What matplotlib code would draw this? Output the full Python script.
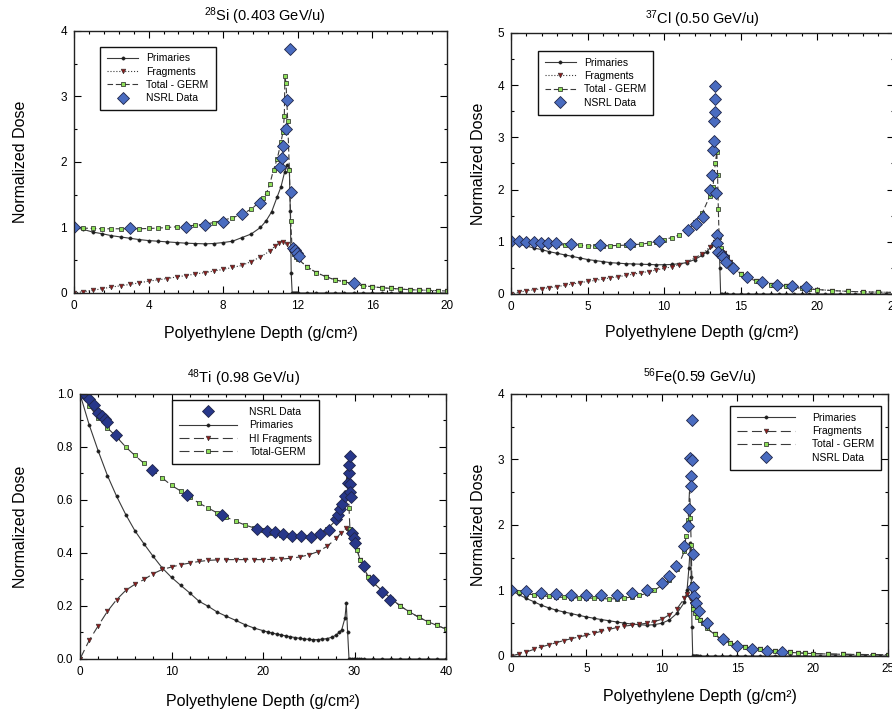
import matplotlib
matplotlib.use('Agg')
import matplotlib.pyplot as plt
from matplotlib.ticker import MultipleLocator, FormatStrFormatter

plt.rcParams['font.family'] = ['Liberation Sans', 'DejaVu Sans']
plt.rcParams['mathtext.fontset'] = 'custom'
plt.rcParams['mathtext.rm'] = 'Liberation Sans'
plt.rcParams['mathtext.it'] = 'Liberation Sans:italic'
plt.rcParams['mathtext.bf'] = 'Liberation Sans:bold'

# ---------------- 28Si (0.403 GeV/u) ----------------
si_prim_x = [0, 0.5, 1, 1.5, 2, 2.5, 3, 3.5, 4, 4.5, 5, 5.5, 6, 6.5, 7, 7.5, 8, 8.5, 9, 9.5, 10,
             10.3, 10.6, 10.9, 11.1, 11.3, 11.45, 11.55, 11.6, 11.65,
             11.7, 11.75, 11.8, 11.85, 11.9, 11.95, 12.0,
             12.5, 13, 13.5, 14, 14.5, 15, 15.5, 16, 16.5, 17, 17.5, 18, 18.5, 19, 19.5, 20]
si_prim_y = [1.0, 0.97, 0.93, 0.905, 0.875, 0.855, 0.835, 0.815, 0.80, 0.79, 0.78, 0.77, 0.76, 0.755, 0.75, 0.755, 0.77, 0.79, 0.845, 0.9, 1.0,
             1.1, 1.24, 1.47, 1.62, 1.85, 1.95, 1.9, 1.25, 0.3,
             0, 0, 0, 0, 0, 0, 0,
             0, 0, 0, 0, 0, 0, 0, 0, 0, 0, 0, 0, 0, 0, 0, 0]
si_frag_x = [0, 0.5, 1, 1.5, 2, 2.5, 3, 3.5, 4, 4.5, 5, 5.5, 6, 6.5, 7, 7.5, 8, 8.5, 9, 9.5, 10,
             10.5, 10.8, 11.0, 11.2, 11.4, 11.6, 11.8, 12.0,
             12.5, 13, 13.5, 14, 14.5, 15, 15.5, 16, 16.5, 17, 17.5, 18, 18.5, 19, 19.5, 20]
si_frag_y = [0.0, 0.02, 0.04, 0.065, 0.09, 0.11, 0.13, 0.155, 0.18, 0.2, 0.22, 0.245, 0.265, 0.29, 0.31, 0.335, 0.36, 0.39, 0.42, 0.48, 0.55,
             0.64, 0.72, 0.76, 0.78, 0.74, 0.66, 0.58, 0.52,
             0.40, 0.31, 0.25, 0.20, 0.17, 0.14, 0.11, 0.095, 0.08, 0.07, 0.06, 0.05, 0.045, 0.04, 0.035, 0.03]
si_tot_x = [0, 0.5, 1, 1.5, 2, 2.5, 3, 3.5, 4, 4.5, 5, 5.5, 6, 6.5, 7, 7.5, 8, 8.5, 9, 9.5, 10,
            10.15, 10.33, 10.5, 10.7, 10.9, 11.1, 11.2, 11.28, 11.31, 11.37, 11.46, 11.55, 11.62, 11.7, 11.8, 11.9, 12.0,
            12.5, 13, 13.5, 14, 14.5, 15, 15.5, 16, 16.5, 17, 17.5, 18, 18.5, 19, 19.5, 20]
si_tot_y = [1.0, 0.99, 0.985, 0.98, 0.98, 0.98, 0.98, 0.98, 0.985, 0.99, 1.0, 1.01, 1.02, 1.035, 1.05, 1.075, 1.11, 1.15, 1.2, 1.28, 1.4,
            1.45, 1.53, 1.66, 1.88, 2.05, 2.3, 2.45, 2.7, 3.31, 3.21, 2.63, 1.88, 1.1, 0.66, 0.6, 0.55, 0.52,
            0.40, 0.31, 0.25, 0.20, 0.17, 0.14, 0.11, 0.095, 0.08, 0.07, 0.06, 0.05, 0.045, 0.04, 0.035, 0.03]
si_nsrl_x = [0, 3, 6, 7, 8, 9, 10, 11.05, 11.13, 11.22, 11.35, 11.44, 11.58, 11.63, 11.75, 11.85, 11.95, 12.05, 15]
si_nsrl_y = [1.0, 0.99, 1.01, 1.04, 1.09, 1.2, 1.37, 1.92, 2.06, 2.24, 2.5, 2.95, 3.72, 1.54, 0.68, 0.65, 0.61, 0.57, 0.15]

# ---------------- 37Cl (0.50 GeV/u) ----------------
cl_prim_x = [0, 0.5, 1, 1.5, 2, 2.5, 3, 3.5, 4, 4.5, 5, 5.5, 6, 6.5, 7, 7.5, 8, 8.5, 9, 9.5, 10, 10.5, 11, 11.5, 12, 12.5,
             12.8, 13.1, 13.3, 13.5, 13.6, 13.65,
             13.7, 13.8, 13.9, 14.0, 14.1,
             14.5, 15, 15.5, 16, 16.5, 17, 17.5, 18, 18.5, 19, 19.5, 20, 20.5, 21, 21.5, 22, 22.5, 23, 23.5, 24, 24.5, 25]
cl_prim_y = [1.0, 0.96, 0.92, 0.88, 0.85, 0.81, 0.78, 0.75, 0.72, 0.69, 0.66, 0.64, 0.62, 0.60, 0.59, 0.58, 0.575, 0.57, 0.565, 0.56, 0.56, 0.565, 0.58, 0.6, 0.66, 0.74,
             0.81, 0.91, 1.0, 1.1, 1.15, 0.5,
             0, 0, 0, 0, 0,
             0, 0, 0, 0, 0, 0, 0, 0, 0, 0, 0, 0, 0, 0, 0, 0, 0, 0, 0, 0, 0, 0]
cl_frag_x = [0, 0.5, 1, 1.5, 2, 2.5, 3, 3.5, 4, 4.5, 5, 5.5, 6, 6.5, 7, 7.5, 8, 8.5, 9, 9.5, 10, 10.5, 11, 11.5, 12, 12.5, 13,
             13.3, 13.5, 13.7, 13.9, 14.1, 14.3, 14.5,
             15, 15.5, 16, 16.5, 17, 17.5, 18, 18.5, 19, 19.5, 20, 21, 22, 23, 24, 25]
cl_frag_y = [0.0, 0.03, 0.06, 0.08, 0.10, 0.12, 0.14, 0.165, 0.19, 0.215, 0.24, 0.26, 0.285, 0.31, 0.33, 0.355, 0.38, 0.405, 0.43, 0.46, 0.49, 0.52, 0.56, 0.61, 0.69, 0.77, 0.9,
             1.0, 0.93, 0.85, 0.78, 0.70, 0.62, 0.52,
             0.39, 0.31, 0.25, 0.21, 0.18, 0.16, 0.145, 0.125, 0.11, 0.095, 0.085, 0.065, 0.05, 0.04, 0.035, 0.03]
cl_tot_x = [0, 0.5, 1, 1.5, 2, 2.5, 3, 3.5, 4, 4.5, 5, 5.5, 6, 6.5, 7, 7.5, 8, 8.5, 9, 9.5, 10, 10.5, 11, 11.5, 12, 12.5, 13,
            13.2, 13.35, 13.45, 13.5, 13.55, 13.6, 13.7, 13.8, 13.9, 14.1, 14.3, 14.5,
            15, 15.5, 16, 16.5, 17, 17.5, 18, 18.5, 19, 19.5, 20, 21, 22, 23, 24, 25]
cl_tot_y = [1.0, 0.99, 0.98, 0.97, 0.96, 0.95, 0.945, 0.94, 0.935, 0.93, 0.925, 0.92, 0.92, 0.925, 0.93, 0.935, 0.945, 0.955, 0.975, 1.0, 1.04, 1.08, 1.13, 1.2, 1.37, 1.55, 1.88,
            2.05, 2.5, 2.72, 2.28, 1.62, 1.1, 0.88, 0.8, 0.76, 0.68, 0.6, 0.52,
            0.39, 0.31, 0.25, 0.21, 0.18, 0.16, 0.145, 0.125, 0.11, 0.095, 0.085, 0.065, 0.05, 0.04, 0.035, 0.03]
cl_nsrl_x = [0, 0.52, 0.98, 1.48, 1.96, 2.44, 2.94, 3.9, 5.82, 7.78, 9.67, 11.55, 12.09, 12.57,
             13.0, 13.16, 13.22, 13.27, 13.27, 13.33, 13.33, 13.33, 13.4, 13.44, 13.44, 13.55,
             13.77, 13.88, 14.05, 14.49, 15.4, 16.38, 17.4, 18.34, 19.3]
cl_nsrl_y = [1.02, 1.02, 1.0, 0.99, 0.98, 0.97, 0.97, 0.95, 0.94, 0.95, 1.02, 1.23, 1.34, 1.48,
             2.0, 2.27, 2.75, 2.93, 3.31, 3.48, 3.73, 3.98, 1.93, 1.13, 0.97, 0.81,
             0.75, 0.70, 0.62, 0.5, 0.33, 0.22, 0.17, 0.15, 0.13]

# ---------------- 48Ti (0.98 GeV/u) ----------------
ti_prim_x = [0, 1, 2, 3, 4, 5, 6, 7, 8, 9, 10, 11, 12, 13, 14, 15, 16, 17, 18, 19, 20,
             20.5, 21, 21.5, 22, 22.5, 23, 23.5, 24, 24.5, 25, 25.5, 26, 26.5, 27, 27.5, 28, 28.3, 28.6, 28.96, 29.1, 29.25,
             29.4, 29.5, 29.7, 29.9, 30.1, 30.3, 30.5, 30.7, 31, 32, 33, 34, 35, 36, 37, 38, 39, 40]
ti_prim_y = [1.0, 0.884, 0.784, 0.692, 0.614, 0.545, 0.484, 0.434, 0.387, 0.343, 0.308, 0.278, 0.249, 0.218, 0.199, 0.177, 0.161, 0.146, 0.13, 0.117, 0.107,
             0.102, 0.098, 0.094, 0.091, 0.087, 0.084, 0.081, 0.078, 0.076, 0.074, 0.073, 0.073, 0.075, 0.077, 0.082, 0.09, 0.1, 0.11, 0.155, 0.21, 0.1,
             0, 0, 0, 0, 0, 0, 0, 0, 0, 0, 0, 0, 0, 0, 0, 0, 0, 0]
ti_frag_x = [0, 1, 2, 3, 4, 5, 6, 7, 8, 9, 10, 11, 12, 13, 14, 15, 16, 17, 18, 19, 20, 21, 22, 23, 24, 25, 26, 27, 28,
             28.5, 29.1, 29.4, 29.7, 30, 30.3, 30.6, 31, 31.5, 32, 33, 34, 35, 36, 37, 38, 39, 40]
ti_frag_y = [0.0, 0.07, 0.126, 0.18, 0.224, 0.259, 0.282, 0.30, 0.322, 0.338, 0.347, 0.356, 0.362, 0.368, 0.372, 0.374, 0.375, 0.375, 0.375, 0.375, 0.375, 0.376, 0.377, 0.38, 0.385, 0.393, 0.405, 0.425, 0.455,
             0.475, 0.494, 0.48, 0.46, 0.44, 0.41, 0.375, 0.345, 0.31, 0.29, 0.258, 0.228, 0.2, 0.178, 0.158, 0.141, 0.127, 0.113]
ti_tot_x = [0, 1, 2, 3, 4, 5, 6, 7, 8, 9, 10, 11, 12, 13, 14, 15, 16, 17, 18, 19, 20, 21, 22, 23, 24, 25, 26, 27, 28,
            28.4, 28.8, 29.07, 29.2, 29.3, 29.4, 29.5, 29.7, 30, 30.3, 30.6, 31, 31.5, 32, 33, 34, 35, 36, 37, 38, 39, 40]
ti_tot_y = [1.0, 0.955, 0.91, 0.872, 0.838, 0.80, 0.768, 0.738, 0.71, 0.683, 0.655, 0.634, 0.612, 0.588, 0.57, 0.551, 0.535, 0.52, 0.506, 0.495, 0.486, 0.477, 0.469, 0.464, 0.461, 0.462, 0.47, 0.49, 0.524,
            0.564, 0.614, 0.664, 0.70, 0.66, 0.57, 0.49, 0.46, 0.44, 0.41, 0.375, 0.345, 0.31, 0.29, 0.258, 0.228, 0.2, 0.178, 0.158, 0.141, 0.127, 0.113]
ti_nsrl_x = [0, 0.55, 0.98, 1.57, 2.0, 2.37, 2.73, 2.99, 3.93, 7.83, 11.66, 15.48, 19.3,
             20.4, 21.3, 22.2, 23.2, 24.2, 25.2, 26.2, 27.2, 28.0, 28.2, 28.4, 28.6, 28.96,
             29.25, 29.4, 29.45, 29.5, 29.5, 29.55, 29.6, 29.7, 29.9, 30.05, 31.0, 32.0, 33.0, 33.9]
ti_nsrl_y = [1.0, 1.0, 0.98, 0.96, 0.93, 0.916, 0.906, 0.893, 0.847, 0.714, 0.618, 0.542, 0.492,
             0.484, 0.478, 0.472, 0.465, 0.465, 0.46, 0.472, 0.488, 0.53, 0.545, 0.565, 0.585, 0.614,
             0.664, 0.70, 0.732, 0.765, 0.66, 0.63, 0.61, 0.475, 0.455, 0.437, 0.351, 0.298, 0.254, 0.223]

# ---------------- 56Fe (0.59 GeV/u) ----------------
fe_prim_x = [0, 0.5, 1, 1.5, 2, 2.5, 3, 3.5, 4, 4.5, 5, 5.5, 6, 6.5, 7, 7.5, 8, 8.5, 9, 9.5, 10, 10.5, 11, 11.5,
             11.67, 11.8, 11.9, 11.95, 12.0, 12.05,
             12.1, 12.15, 12.2, 12.25, 12.3, 12.35, 12.4, 12.5,
             13, 13.5, 14, 14.5, 15, 15.5, 16, 16.5, 17, 17.5, 18, 18.5, 19, 19.5, 20, 20.5, 21, 21.5, 22, 22.5, 23, 23.5, 24, 24.5, 25]
fe_prim_y = [1.0, 0.94, 0.88, 0.83, 0.776, 0.735, 0.70, 0.672, 0.648, 0.62, 0.597, 0.575, 0.556, 0.538, 0.52, 0.502, 0.488, 0.478, 0.47, 0.478, 0.5, 0.55, 0.65, 0.82,
             1.0, 1.35, 1.72, 1.2, 0.45, 0,
             0, 0, 0, 0, 0, 0, 0, 0,
             0, 0, 0, 0, 0, 0, 0, 0, 0, 0, 0, 0, 0, 0, 0, 0, 0, 0, 0, 0, 0, 0, 0, 0, 0]
fe_frag_x = [0, 0.5, 1, 1.5, 2, 2.5, 3, 3.5, 4, 4.5, 5, 5.5, 6, 6.5, 7, 7.5, 8, 8.5, 9, 9.5, 10, 10.5, 11, 11.5,
             11.7, 11.9, 12.0, 12.1, 12.2, 12.35, 12.5, 12.75, 13, 13.5,
             14, 14.5, 15, 15.5, 16, 16.5, 17, 17.5, 18, 18.5, 19, 19.5, 20, 21, 22, 23, 24, 25]
fe_frag_y = [0.0, 0.03, 0.06, 0.1, 0.138, 0.17, 0.204, 0.235, 0.265, 0.29, 0.316, 0.347, 0.378, 0.405, 0.434, 0.455, 0.47, 0.485, 0.5, 0.525, 0.56, 0.63, 0.72, 0.88,
             0.95, 0.88, 0.8, 0.72, 0.66, 0.6, 0.55, 0.5, 0.42, 0.33,
             0.245, 0.2, 0.163, 0.14, 0.12, 0.1, 0.087, 0.073, 0.062, 0.055, 0.048, 0.042, 0.037, 0.03, 0.026, 0.023, 0.021, 0.02]
fe_tot_x = [0, 0.5, 1, 1.5, 2, 2.5, 3, 3.5, 4, 4.5, 5, 5.5, 6, 6.5, 7, 7.5, 8, 8.5, 9, 9.5, 10, 10.5, 11, 11.5,
            11.6, 11.75, 11.85, 11.9, 11.95, 12.0, 12.05, 12.1,
            12.2, 12.35, 12.5, 12.75, 13, 13.5, 14, 14.5, 15, 15.5, 16, 16.5, 17, 17.5, 18, 18.5, 19, 19.5, 20, 21, 22, 23, 24, 25]
fe_tot_y = [1.0, 0.97, 0.95, 0.935, 0.92, 0.91, 0.90, 0.895, 0.89, 0.888, 0.886, 0.882, 0.878, 0.87, 0.875, 0.885, 0.9, 0.925, 0.955, 1.0, 1.08, 1.16, 1.33, 1.6,
            1.83, 2.08, 2.6, 2.1, 1.7, 1.1, 0.78, 0.72,
            0.66, 0.6, 0.55, 0.5, 0.42, 0.33, 0.245, 0.2, 0.163, 0.14, 0.12, 0.1, 0.087, 0.073, 0.062, 0.055, 0.048, 0.042, 0.037, 0.03, 0.026, 0.023, 0.021, 0.02]
fe_nsrl_x = [0, 1.02, 2.01, 3.0, 4.0, 5.0, 6.0, 7.0, 8.0, 9.0, 10.0, 10.5, 10.94, 11.5, 11.72,
             11.82, 11.87, 11.94, 11.94, 12.02, 12.02, 12.07, 12.09, 12.13, 12.25, 12.49, 13.02, 14.04, 15.0, 16.0, 17.0, 18.0]
fe_nsrl_y = [1.0, 0.985, 0.954, 0.944, 0.93, 0.93, 0.93, 0.93, 0.964, 1.015, 1.11, 1.22, 1.37, 1.68, 1.98,
             2.25, 3.02, 2.75, 2.6, 2.99, 3.6, 1.05, 1.56, 0.92, 0.81, 0.69, 0.50, 0.265, 0.153, 0.112, 0.077, 0.056]

# marker styles
LINE = '#3a3a3a'
prim_kw = dict(color=LINE, lw=0.8, marker='o', ms=2.4, mfc='#1e1e1e', mec='#1e1e1e', mew=0.3)
frag_kw = dict(color=LINE, lw=0.8, marker='v', ms=3.4, mfc='#8b1c1c', mec='#333333', mew=0.4)
tot_kw = dict(color=LINE, lw=0.8, marker='s', ms=2.7, mfc='#8fe05a', mec='#222222', mew=0.5)
nsrl_kw = dict(ls='none', marker='D', ms=5.8, mfc='#4a6cc0', mec='#1f2548', mew=0.6)


def setup(ax, xmax, xmaj, ymax, ymaj, yfmt=None):
	ax.set_xlim(0, xmax)
	ax.set_ylim(0, ymax)
	ax.xaxis.set_major_locator(MultipleLocator(xmaj))
	ax.xaxis.set_minor_locator(MultipleLocator(xmaj / 5.0))
	ax.yaxis.set_major_locator(MultipleLocator(ymaj))
	ax.yaxis.set_minor_locator(MultipleLocator(ymaj / 2.0))
	if yfmt:
		ax.yaxis.set_major_formatter(FormatStrFormatter(yfmt))
	ax.tick_params(which='both', direction='in', top=True, right=True, labelsize=8.5, width=0.8, pad=5)
	ax.tick_params(which='major', length=5)
	ax.tick_params(which='minor', length=2.5)
	for s in ax.spines.values():
		s.set_linewidth(1.0)
		s.set_color('#222222')
	ax.set_xlabel('Polyethylene Depth (g/cm²)', fontsize=11.5)
	ax.set_ylabel('Normalized Dose', fontsize=11.5)


def legend(ax, handles, labels, anchor, loc, hl, htp):
	leg = ax.legend(handles, labels, loc=loc, bbox_to_anchor=anchor, fontsize=7.5,
		frameon=True, fancybox=False, framealpha=1, edgecolor='#111111',
		handlelength=hl, handletextpad=htp, labelspacing=0.32, borderpad=0.65, borderaxespad=0)
	leg.get_frame().set_linewidth(1.0)
	return leg


fig = plt.figure(figsize=(8.92, 7.17), dpi=100)

ax1 = fig.add_axes([0.083, 0.5914, 0.418, 0.3654])
ax2 = fig.add_axes([0.5729, 0.590, 0.4288, 0.364])
ax3 = fig.add_axes([0.0897, 0.0809, 0.4103, 0.3696])
ax4 = fig.add_axes([0.5729, 0.0851, 0.4226, 0.3654])

# Si
p, = ax1.plot(si_prim_x, si_prim_y, ls='-', **prim_kw)
f, = ax1.plot(si_frag_x, si_frag_y, ls=':', **frag_kw)
t, = ax1.plot(si_tot_x, si_tot_y, ls=(0, (5, 2.5)), **tot_kw)
n, = ax1.plot(si_nsrl_x, si_nsrl_y, **nsrl_kw)
setup(ax1, 20, 4, 4, 1)
ax1.set_title(r'$^{28}$Si (0.403 GeV/u)', fontsize=10.5, pad=7, x=0.512)
legend(ax1, [p, f, t, n], ['Primaries', 'Fragments', 'Total - GERM', 'NSRL Data'],
	(0.07, 0.94), 'upper left', 3.0, 0.8)
ax1.yaxis.set_label_coords(-0.123, 0.5)
ax1.xaxis.set_label_coords(0.5, -0.126)

# Cl
p, = ax2.plot(cl_prim_x, cl_prim_y, ls='-', **prim_kw)
f, = ax2.plot(cl_frag_x, cl_frag_y, ls=':', **frag_kw)
t, = ax2.plot(cl_tot_x, cl_tot_y, ls=(0, (5, 2.5)), **tot_kw)
n, = ax2.plot(cl_nsrl_x, cl_nsrl_y, **nsrl_kw)
setup(ax2, 25, 5, 5, 1)
ax2.set_title(r'$^{37}$Cl (0.50 GeV/u)', fontsize=10.5, pad=6.5)
legend(ax2, [p, f, t, n], ['Primaries', 'Fragments', 'Total - GERM', 'NSRL Data'],
	(0.07, 0.931), 'upper left', 3.0, 0.8)
ax2.yaxis.set_label_coords(-0.065, 0.5)
ax2.xaxis.set_label_coords(0.5, -0.119)

# Ti
p, = ax3.plot(ti_prim_x, ti_prim_y, ls='-', **prim_kw)
f, = ax3.plot(ti_frag_x, ti_frag_y, ls=(0, (9, 4)), **frag_kw)
t, = ax3.plot(ti_tot_x, ti_tot_y, ls=(0, (9, 4)), **tot_kw)
ti_nsrl_kw = dict(nsrl_kw)
ti_nsrl_kw['mfc'] = '#27378a'
n, = ax3.plot(ti_nsrl_x, ti_nsrl_y, **ti_nsrl_kw)
setup(ax3, 40, 10, 1.0, 0.2, '%.1f')
ax3.set_title(r'$^{48}$Ti (0.98 GeV/u)', fontsize=10.5, pad=8, x=0.448)
legend(ax3, [n, p, f, t], ['NSRL Data', 'Primaries', 'HI Fragments', 'Total-GERM'],
	(0.251, 0.977), 'upper left', 5.6, 1.2)
ax3.yaxis.set_label_coords(-0.142, 0.5)
ax3.xaxis.set_label_coords(0.5, -0.132)

# Fe
p, = ax4.plot(fe_prim_x, fe_prim_y, ls='-', **prim_kw)
f, = ax4.plot(fe_frag_x, fe_frag_y, ls=(0, (9, 4)), **frag_kw)
t, = ax4.plot(fe_tot_x, fe_tot_y, ls=(0, (9, 4)), **tot_kw)
n, = ax4.plot(fe_nsrl_x, fe_nsrl_y, **nsrl_kw)
setup(ax4, 25, 5, 4, 1)
ax4.set_title(r'$^{56}$Fe(0.59 GeV/u)', fontsize=10.5, pad=8.6)
legend(ax4, [p, f, t, n], ['Primaries', 'Fragments', 'Total - GERM', 'NSRL Data'],
	(0.981, 0.954), 'upper right', 5.6, 1.6)
ax4.yaxis.set_label_coords(-0.066, 0.5)
ax4.xaxis.set_label_coords(0.5, -0.126)

fig.savefig('out.png', dpi=100)
